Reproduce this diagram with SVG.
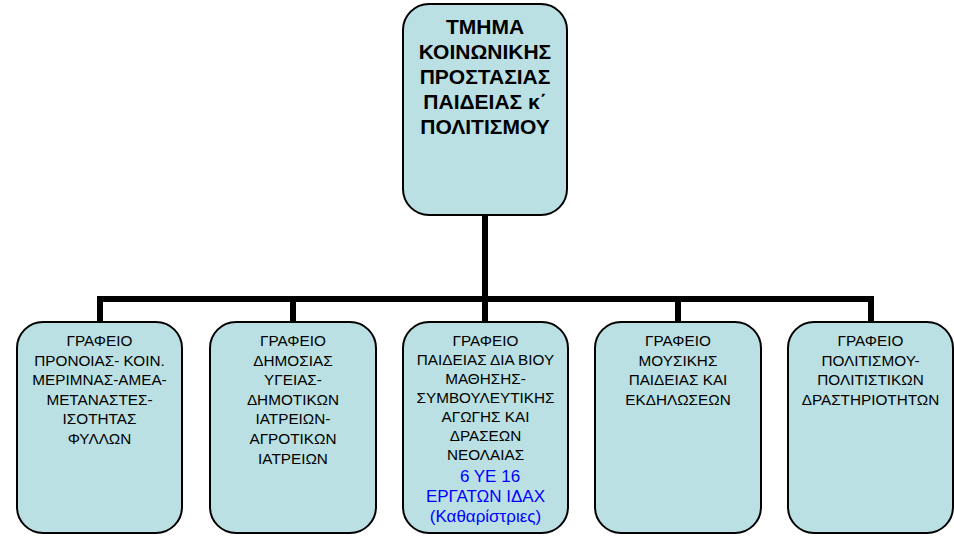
<svg xmlns="http://www.w3.org/2000/svg" width="954" height="536" viewBox="0 0 954 536">
<style>
.box{fill:#BBE0E3;stroke:#000;stroke-width:2}
.t{font-family:"Liberation Sans",Arial,sans-serif;font-size:15.3px;fill:#000;text-anchor:middle}
.h{font-family:"Liberation Sans",Arial,sans-serif;font-size:21px;font-weight:bold;fill:#000;text-anchor:middle}
.b{font-family:"Liberation Sans",Arial,sans-serif;font-size:17px;fill:#0000FF;text-anchor:middle}
.c{fill:none;stroke:#000;stroke-width:6}
</style>
<rect width="954" height="536" fill="#fff"/>
<g id="connectors">
<path class="c" d="M485 215V299M97 299H874M100 299V322M293 299V322M485 299V322M678 299V322M871 299V322"/>
</g>
<g id="top">
<rect class="box" x="403" y="4" width="164" height="211" rx="26"/>
<text class="h" x="485" y="34">ΤΜΗΜΑ</text>
<text class="h" x="485" y="59">ΚΟΙΝΩΝΙΚΗΣ</text>
<text class="h" x="485" y="84">ΠΡΟΣΤΑΣΙΑΣ</text>
<text class="h" x="485" y="109">ΠΑΙΔΕΙΑΣ κ΄</text>
<text class="h" x="485" y="134">ΠΟΛΙΤΙΣΜΟΥ</text>
</g>
<g id="n1">
<rect class="box" x="17" y="322" width="165" height="211" rx="26"/>
<text class="t" x="99.5" y="346">ΓΡΑΦΕΙΟ</text>
<text class="t" x="99.5" y="365.6">ΠΡΟΝΟΙΑΣ- ΚΟΙΝ.</text>
<text class="t" x="99.5" y="385.2">ΜΕΡΙΜΝΑΣ-ΑΜΕΑ-</text>
<text class="t" x="99.5" y="404.8">ΜΕΤΑΝΑΣΤΕΣ-</text>
<text class="t" x="99.5" y="424.4">ΙΣΟΤΗΤΑΣ</text>
<text class="t" x="99.5" y="444">ΦΥΛΛΩΝ</text>
</g>
<g id="n2">
<rect class="box" x="210" y="322" width="166" height="211" rx="26"/>
<text class="t" x="293" y="346">ΓΡΑΦΕΙΟ</text>
<text class="t" x="293" y="365.6">ΔΗΜΟΣΙΑΣ</text>
<text class="t" x="293" y="385.2">ΥΓΕΙΑΣ-</text>
<text class="t" x="293" y="404.8">ΔΗΜΟΤΙΚΩΝ</text>
<text class="t" x="293" y="424.4">ΙΑΤΡΕΙΩΝ-</text>
<text class="t" x="293" y="444">ΑΓΡΟΤΙΚΩΝ</text>
<text class="t" x="293" y="463.6">ΙΑΤΡΕΙΩΝ</text>
</g>
<g id="n3">
<rect class="box" x="403" y="322" width="165" height="211" rx="26"/>
<text class="t" x="485.5" y="346">ΓΡΑΦΕΙΟ</text>
<text class="t" x="485.5" y="365">ΠΑΙΔΕΙΑΣ ΔΙΑ ΒΙΟΥ</text>
<text class="t" x="485.5" y="384">ΜΑΘΗΣΗΣ-</text>
<text class="t" x="485.5" y="403">ΣΥΜΒΟΥΛΕΥΤΙΚΗΣ</text>
<text class="t" x="485.5" y="422">ΑΓΩΓΗΣ ΚΑΙ</text>
<text class="t" x="485.5" y="441">ΔΡΑΣΕΩΝ</text>
<text class="t" x="485.5" y="460">ΝΕΟΛΑΙΑΣ</text>
<text class="b" x="490" y="481.7">6 ΥΕ 16</text>
<text class="b" x="485.5" y="502">ΕΡΓΑΤΩΝ ΙΔΑΧ</text>
<text class="b" x="485.5" y="522">(Καθαρίστριες)</text>
</g>
<g id="n4">
<rect class="box" x="595" y="322" width="166" height="211" rx="26"/>
<text class="t" x="678" y="346">ΓΡΑΦΕΙΟ</text>
<text class="t" x="678" y="365.6">ΜΟΥΣΙΚΗΣ</text>
<text class="t" x="678" y="385.2">ΠΑΙΔΕΙΑΣ ΚΑΙ</text>
<text class="t" x="678" y="404.8">ΕΚΔΗΛΩΣΕΩΝ</text>
</g>
<g id="n5">
<rect class="box" x="788" y="322" width="165" height="211" rx="26"/>
<text class="t" x="870.5" y="346">ΓΡΑΦΕΙΟ</text>
<text class="t" x="870.5" y="365.6">ΠΟΛΙΤΙΣΜΟΥ-</text>
<text class="t" x="870.5" y="385.2">ΠΟΛΙΤΙΣΤΙΚΩΝ</text>
<text class="t" x="870.5" y="404.8">ΔΡΑΣΤΗΡΙΟΤΗΤΩΝ</text>
</g>
</svg>
